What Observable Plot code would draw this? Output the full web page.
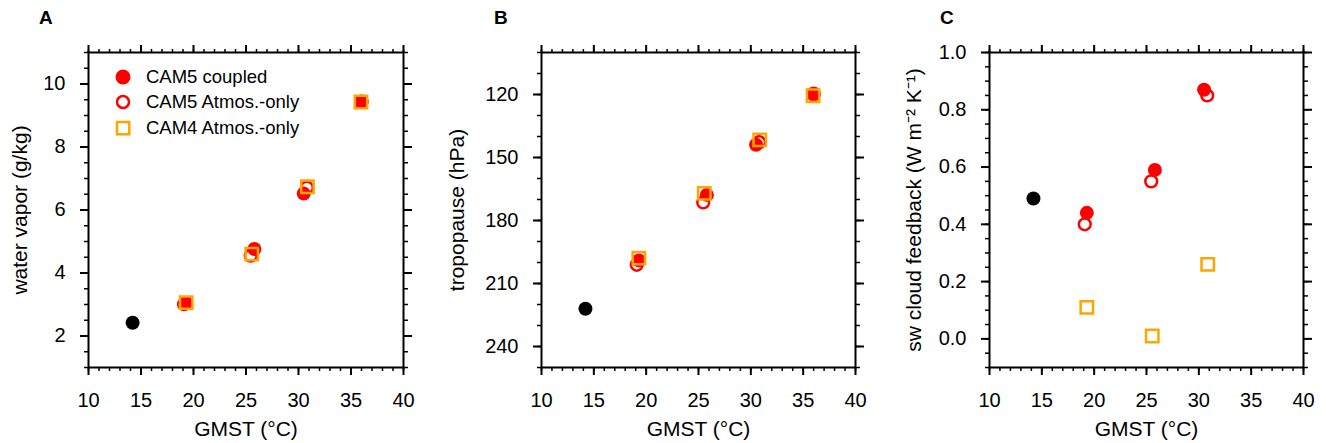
<!DOCTYPE html>
<html><head><meta charset="utf-8">
<script src="https://cdn.jsdelivr.net/npm/d3@7"></script>
<script src="https://cdn.jsdelivr.net/npm/@observablehq/plot@0.6"></script>
<style>
body{margin:0;background:#fff;font-family:"Liberation Sans",Arial,Helvetica,sans-serif;}
#wrap{position:relative;width:1326px;height:443px;overflow:hidden;background:#fff;}
.panel{position:absolute;top:0;}
.letter{position:absolute;font-weight:bold;font-size:19px;line-height:1;color:#000;}
.lg{position:absolute;font-size:18.5px;line-height:1;color:#000;white-space:nowrap;}
.lgm{position:absolute;overflow:visible;}
</style></head><body><div id="wrap"></div>
<script>
// ---- data ----
const seriesNames = ["CAM5 coupled", "CAM5 Atmos.-only", "CAM4 Atmos.-only"];
const gmstPreind = [14.2];
const gmstCAM5Coupled = [19.3, 25.8, 30.5, 36.0];
const gmstCAM5Atmos   = [19.1, 25.45, 30.8, 36.0];
const gmstCAM4Atmos   = [19.3, 25.55, 30.85, 35.95];

const wvPreind = [2.42];
const wvCAM5Coupled = [3.05, 4.76, 6.52, 9.44];
const wvCAM5Atmos   = [3.01, 4.55, 6.71, 9.44];
const wvCAM4Atmos   = [3.06, 4.60, 6.74, 9.43];

const tpPreind = [222];
const tpCAM5Coupled = [199.0, 167.8, 143.9, 119.5];
const tpCAM5Atmos   = [201.1, 171.4, 142.7, 120.0];
const tpCAM4Atmos   = [197.9, 167.1, 141.6, 120.6];

const swPreind = [0.49];
const swCAM5Coupled = [0.44, 0.59, 0.87];
const swCAM5Atmos   = [0.40, 0.55, 0.85];
const swCAM4Atmos   = [0.11, 0.01, 0.26];

const xMajorTicks = [10, 15, 20, 25, 30, 35, 40];
const yMajorA = [2, 4, 6, 8, 10];
const yMajorB = [120, 150, 180, 210, 240];
const yMajorC = [0.0, 0.2, 0.4, 0.6, 0.8, 1.0];

const xMinorTicks = d3.range(10, 40.5, 1);
const yMinorA = d3.range(1, 11.01, 0.5);
const yMinorB = d3.range(100, 250.1, 10);
const yMinorC = d3.range(-0.1, 1.001, 0.05).map(v => Math.round(v * 100) / 100);

const RED = "#ff0000", ORANGE = "#ffa500";
const FONT = "'Liberation Sans', Arial, Helvetica, sans-serif";

function pts(xs, ys) { return ys.map((y, i) => ({x: xs[i], y})).filter(d => d.y != null); }

function frameAxes(yMajor, yMinor, yFmt) {
  const blank = () => "";
  return [
    Plot.axisX(xMinorTicks, {anchor: "bottom", tickSize: 4, strokeWidth: 1.5, tickFormat: blank, label: null}),
    Plot.axisX(xMinorTicks, {anchor: "top", tickSize: 4, strokeWidth: 1.5, tickFormat: blank, label: null}),
    Plot.axisY(yMinor, {anchor: "left", tickSize: 4, strokeWidth: 1.5, tickFormat: blank, label: null}),
    Plot.axisY(yMinor, {anchor: "right", tickSize: 4, strokeWidth: 1.5, tickFormat: blank, label: null}),
    Plot.axisX(xMajorTicks, {anchor: "bottom", tickSize: 8, strokeWidth: 2, tickPadding: 17, fontSize: 20, tickFormat: d => String(d), label: null}),
    Plot.axisX(xMajorTicks, {anchor: "top", tickSize: 8, strokeWidth: 2, tickFormat: blank, label: null}),
    Plot.axisY(yMajor, {anchor: "left", tickSize: 8, strokeWidth: 2, tickPadding: 15, fontSize: 20, tickFormat: yFmt, label: null}),
    Plot.axisY(yMajor, {anchor: "right", tickSize: 8, strokeWidth: 2, tickFormat: blank, label: null}),
    Plot.frame({strokeWidth: 2, stroke: "#000"})
  ];
}

function panel({width, marginLeft, marginRight, yDomain, reverse, yMajor, yMinor, yFmt, yLabel, yLabelDx,
                pre, coupled, atmos, cam4}) {
  return Plot.plot({
    width, height: 443,
    marginLeft, marginRight, marginTop: 52, marginBottom: 76,
    style: {fontFamily: FONT, fontSize: "20px", background: "transparent", overflow: "visible", color: "#000"},
    x: {domain: [10, 40]},
    y: {domain: yDomain, reverse: !!reverse},
    marks: [
      ...frameAxes(yMajor, yMinor, yFmt),
      Plot.dot(pre, {x: "x", y: "y", r: 7, fill: "#000", stroke: "none"}),
      Plot.dot(atmos, {x: "x", y: "y", r: 5.9, fill: "#fff", stroke: RED, strokeWidth: 2.5}),
      Plot.dot(coupled, {x: "x", y: "y", r: 7, fill: RED, stroke: "none"}),
      Plot.dot(cam4, {x: "x", y: "y", r: 7, symbol: "square", fill: "none", stroke: ORANGE, strokeWidth: 2.5}),
      Plot.text(["GMST (°C)"], {text: d => d, frameAnchor: "bottom", dy: 62, fontSize: 21, textAnchor: "middle", lineAnchor: "middle"}),
      Plot.text([yLabel], {text: d => d, frameAnchor: "left", rotate: -90, dx: yLabelDx, fontSize: 21, textAnchor: "middle", lineAnchor: "middle"})
    ]
  });
}

const wrap = document.getElementById("wrap");
function place(el, left) { el.classList.add("panel"); el.style.left = left + "px"; wrap.appendChild(el); }

place(panel({
  width: 440, marginLeft: 88, marginRight: 37, yDomain: [1, 11], yMajor: yMajorA, yMinor: yMinorA,
  yFmt: d => String(d), yLabel: "water vapor (g/kg)", yLabelDx: -68,
  pre: pts(gmstPreind, wvPreind), coupled: pts(gmstCAM5Coupled, wvCAM5Coupled),
  atmos: pts(gmstCAM5Atmos, wvCAM5Atmos), cam4: pts(gmstCAM4Atmos, wvCAM4Atmos)
}), 0);

place(panel({
  width: 440, marginLeft: 101, marginRight: 25, yDomain: [100, 250], reverse: true, yMajor: yMajorB, yMinor: yMinorB,
  yFmt: d => String(d), yLabel: "tropopause (hPa)", yLabelDx: -84,
  pre: pts(gmstPreind, tpPreind), coupled: pts(gmstCAM5Coupled, tpCAM5Coupled),
  atmos: pts(gmstCAM5Atmos, tpCAM5Atmos), cam4: pts(gmstCAM4Atmos, tpCAM4Atmos)
}), 440);

place(panel({
  width: 446, marginLeft: 109, marginRight: 23, yDomain: [-0.1, 1.0], yMajor: yMajorC, yMinor: yMinorC,
  yFmt: d3.format(".1f"), yLabel: "sw cloud feedback (W m\u207B\u00B2 K\u207B\u00B9)", yLabelDx: -75,
  pre: pts(gmstPreind, swPreind), coupled: pts(gmstCAM5Coupled, swCAM5Coupled),
  atmos: pts(gmstCAM5Atmos, swCAM5Atmos), cam4: pts(gmstCAM4Atmos, swCAM4Atmos)
}), 880);

// panel letters
[["A", 39], ["B", 494], ["C", 940]].forEach(([t, x]) => {
  const d = document.createElement("div");
  d.className = "letter"; d.textContent = t;
  d.style.left = x + "px"; d.style.top = "8px";
  wrap.appendChild(d);
});

// legend (panel A)
const legendRows = [
  {name: seriesNames[0], kind: "filled", cy: 77},
  {name: seriesNames[1], kind: "open", cy: 102},
  {name: seriesNames[2], kind: "square", cy: 128}
];
legendRows.forEach(row => {
  const ns = "http://www.w3.org/2000/svg";
  const svg = document.createElementNS(ns, "svg");
  svg.setAttribute("class", "lgm");
  svg.setAttribute("width", 20); svg.setAttribute("height", 20);
  svg.style.left = (123 - 10) + "px"; svg.style.top = (row.cy - 10) + "px";
  let m;
  if (row.kind === "square") {
    m = document.createElementNS(ns, "rect");
    m.setAttribute("x", 4); m.setAttribute("y", 4); m.setAttribute("width", 12.3); m.setAttribute("height", 12.3);
    m.setAttribute("fill", "none"); m.setAttribute("stroke", ORANGE); m.setAttribute("stroke-width", 2.5);
  } else {
    m = document.createElementNS(ns, "circle");
    m.setAttribute("cx", 10); m.setAttribute("cy", 10);
    if (row.kind === "filled") { m.setAttribute("r", 7.5); m.setAttribute("fill", RED); }
    else { m.setAttribute("r", 6); m.setAttribute("fill", "#fff"); m.setAttribute("stroke", RED); m.setAttribute("stroke-width", 2.5); }
  }
  svg.appendChild(m);
  wrap.appendChild(svg);
  const t = document.createElement("div");
  t.className = "lg"; t.textContent = row.name;
  t.style.left = "146px"; t.style.top = (row.cy - 9.5) + "px";
  wrap.appendChild(t);
});
</script></body></html>
